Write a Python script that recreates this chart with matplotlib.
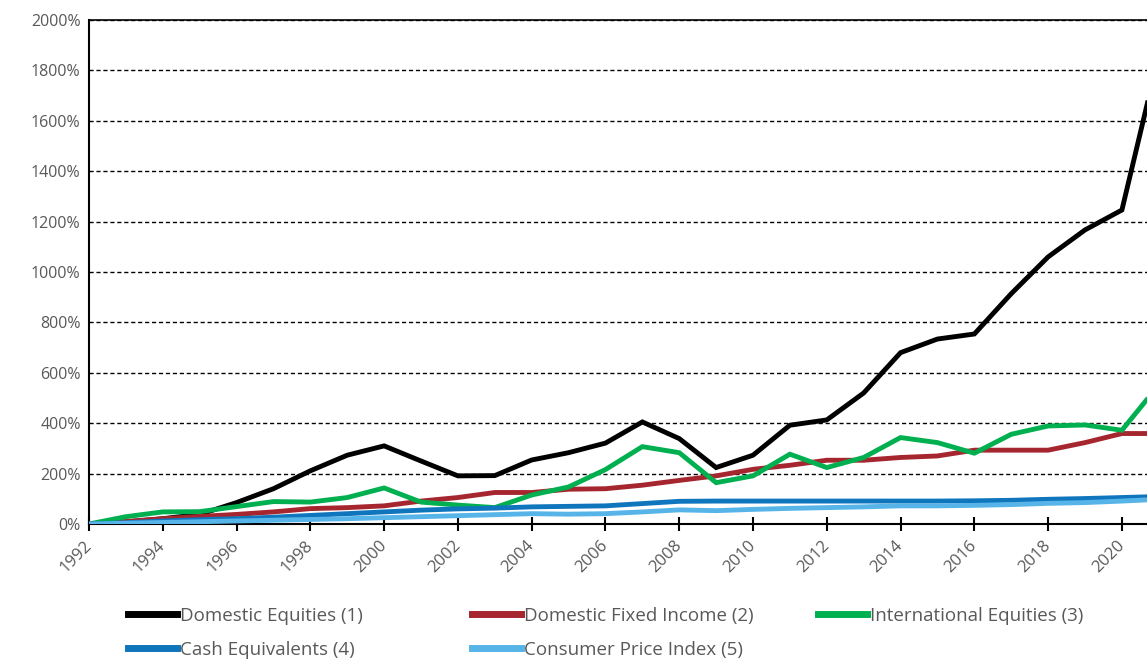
import matplotlib.pyplot as plt
from matplotlib.ticker import FuncFormatter

plt.rcParams['font.family'] = ['Open Sans', 'DejaVu Sans']

years = list(range(1992, 2022))

# cumulative return, percent
domestic_equities = [0, 8, 21, 38, 85, 140, 211, 273, 310, 250, 191, 192, 254, 283,
                     321, 405, 339, 224, 273, 392, 413, 520, 680, 734, 754, 914, 1060,
                     1167, 1246, 1860]
domestic_fixed = [0, 10, 21, 30, 38, 48, 61, 65, 72, 91, 105, 125, 125, 138,
                  140, 154, 173, 191, 217, 233, 253, 253, 264, 270, 293, 293, 293,
                  323, 359, 359]
intl_equities = [0, 29, 48, 49, 69, 89, 87, 105, 143, 87, 75, 65, 115, 147,
                 216, 307, 283, 164, 191, 277, 224, 264, 343, 323, 281, 356, 389,
                 393, 372, 552]
cash = [0, 5, 12, 17, 21, 27, 34, 41, 48, 55, 60, 63, 68, 70,
        72, 81, 90, 91, 91, 91, 91, 91, 91, 91, 92, 94, 98, 101, 105, 109]
cpi = [0, 3, 6, 9, 12, 15, 18, 21, 25, 29, 33, 37, 41, 39,
       41, 48, 56, 53, 58, 62, 65, 68, 72, 72, 74, 77, 82, 85, 91, 98]

labels = ['Domestic Equities (1)', 'Domestic Fixed Income (2)', 'International Equities (3)',
          'Cash Equivalents (4)', 'Consumer Price Index (5)']
colors = ['#000000', '#A6262F', '#00B050', '#0F75BC', '#56B4E9']
series = [domestic_equities, domestic_fixed, intl_equities, cash, cpi]

fig = plt.figure(figsize=(11.47, 6.6), dpi=100)
ax = fig.add_axes([89 / 1147, 1 - 524 / 660, 1 - 89 / 1147, 504 / 660])

# later series on top, like the spreadsheet
for i in range(5):
    ax.plot(years, series[i], color=colors[i], lw=3.5, solid_capstyle='butt',
            solid_joinstyle='miter', zorder=3 + i)

ax.set_xlim(1992, 2020.68)
ax.set_ylim(0, 2000)
ax.set_yticks(range(0, 2001, 200))
ax.yaxis.set_major_formatter(FuncFormatter(lambda v, p: f'{v:.0f}%'))
ax.set_xticks(range(1992, 2021, 2))
ax.grid(axis='y', color='black', linestyle=(0, (3, 2)), lw=1)
ax.set_axisbelow(True)

ax.spines['right'].set_visible(False)
ax.spines['top'].set_linewidth(1.2)
ax.spines['left'].set_linewidth(1.5)
ax.spines['bottom'].set_linewidth(1.5)

ax.tick_params(axis='y', length=0, labelsize=11.5, labelcolor='#595959', pad=6)
ax.tick_params(axis='x', direction='inout', length=10, width=1.5, labelsize=12,
               labelcolor='#595959', pad=9)
for t in ax.get_xticklabels():
    t.set_rotation(45)
    t.set_ha('right')
    t.set_va('center')
    t.set_rotation_mode('anchor')

slot_x = [128, 472, 818]
row_y = [616, 650]
for i, lab in enumerate(labels):
    x = slot_x[i % 3]
    y = row_y[i // 3]
    h, = ax.plot([], [], color=colors[i], lw=5)
    fig.legend([h], [lab], loc='center left',
               bbox_to_anchor=(x / 1147, 1 - y / 660), frameon=False,
               handlelength=2.6, handletextpad=0.15, borderpad=0,
               borderaxespad=0, fontsize=13.5, labelcolor='#595959')

fig.savefig('out.png', dpi=100)
